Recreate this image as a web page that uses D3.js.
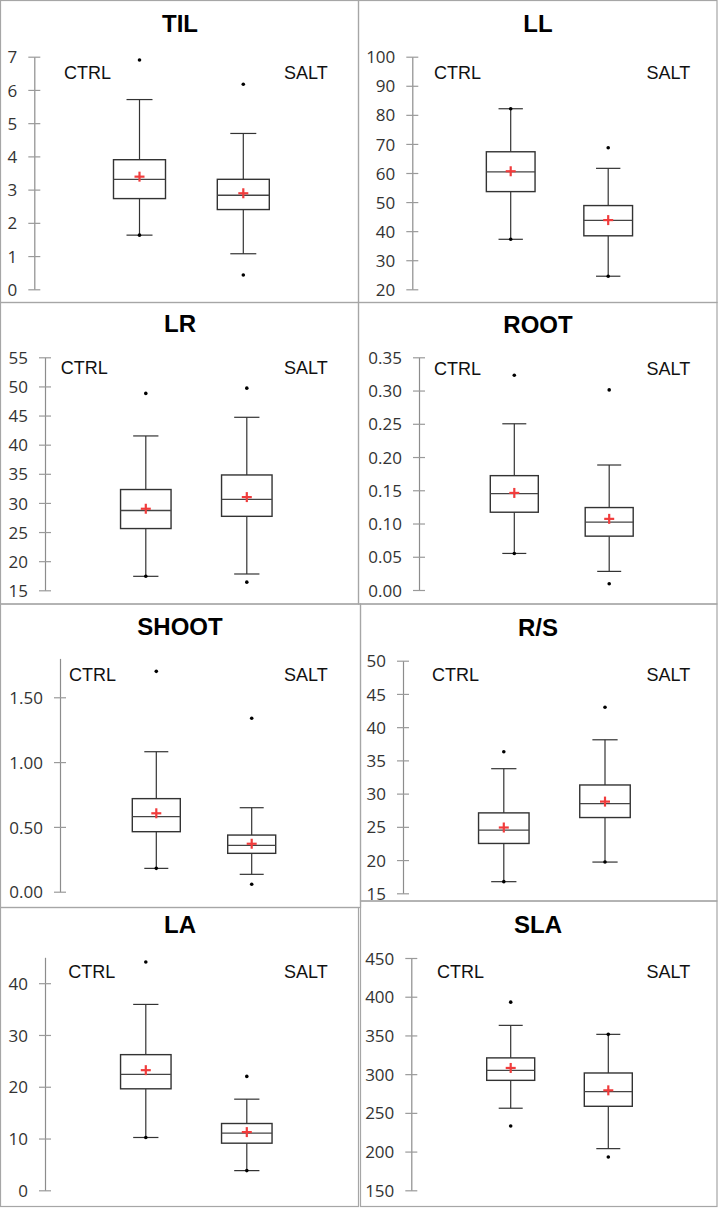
<!DOCTYPE html>
<html><head><meta charset="utf-8">
<script src="https://cdn.jsdelivr.net/npm/d3@7"></script>
<style>
html,body{margin:0;padding:0;background:#fff;}
svg{display:block;}
</style></head>
<body>
<script>
// ---- DATA ----
const panels = ["TIL","LL","LR","ROOT","SHOOT","R/S","LA","SLA"];
const groups = ["CTRL","SALT"];
const yMin  = [0, 20, 15, 0,    0,   15, 0,  150];
const yMax  = [7, 100, 55, 0.35, 1.8, 50, 45, 450];
const yStep = [1, 10, 5, 0.05, 0.5, 5, 10, 50];
const tickFormat = ["d","d","d",".2f",".2f","d","d","d"];
// each entry: [CTRL, SALT]
const maxVal    = [[6.9,6.17],[82.1,68.7],[48.8,49.7],[0.323,0.301],[1.70,1.338],[36.3,43.0],[44.1,22.0],[393,351.4]];
const whiskerHi = [[5.71,4.69],[82.1,61.6],[41.5,44.7],[0.250,0.188],[1.08,0.648],[33.75,38.1],[35.9,17.6],[363,351.4]];
const q3        = [[3.90,3.31],[67.3,48.8],[32.3,34.8],[0.172,0.124],[0.718,0.437],[27.1,31.3],[26.2,12.9],[321,301.5]];
const median    = [[3.31,2.83],[60.4,43.7],[28.7,30.6],[0.145,0.102],[0.579,0.358],[24.5,28.5],[22.4,11.05],[305,277.4]];
const mean      = [[3.39,2.89],[60.6,43.8],[29.0,31.0],[0.146,0.107],[0.605,0.370],[24.9,28.8],[23.2,11.24],[308,279.1]];
const q1        = [[2.73,2.40],[53.6,38.4],[25.6,27.7],[0.117,0.081],[0.463,0.296],[22.5,26.4],[19.6,9.1],[292,258.5]];
const whiskerLo = [[1.63,1.07],[37.2,24.5],[17.4,17.8],[0.055,0.028],[0.18,0.134],[16.75,19.7],[10.2,3.8],[256,203.8]];
const minVal    = [[1.63,0.43],[37.2,24.5],[17.4,16.4],[0.055,0.0095],[0.18,0.057],[16.75,19.7],[10.2,3.8],[233,193]];

// ---- LAYOUT ----
const layout = [
  {frame:[0.5,0.5,358,302],     ax:34.3, top:56.7,  bot:289.3,  cx:[139.5,243.3], bw:52,   tt:[180,32.3],  ly:79,    cl:64,   sr:327.7},
  {frame:[358.5,0.5,358.5,302], ax:412.3,top:56.7,  bot:289.3,  cx:[510.7,608.2], bw:48.7, tt:[538,32.3],  ly:79,    cl:434,  sr:690.3},
  {frame:[0.5,302.5,358,301.5], ax:45,   top:357.3, bot:590.3,  cx:[145.8,246.8], bw:50.5, tt:[180,332.3], ly:374,   cl:60.7, sr:327.7},
  {frame:[358.5,302.5,358.5,301.5],ax:419,top:357.3,bot:590,    cx:[514.3,609.2], bw:48,   tt:[538,333],   ly:374.7, cl:434,  sr:690.3},
  {frame:[0.5,604,360,303.5],   ax:60,   top:658.4, bot:891.7,  cx:[156.3,251.7], bw:48,   tt:[180,635],   ly:681,   cl:69,   sr:327.7},
  {frame:[360.5,604,356.5,297], ax:403,  top:660.7, bot:893.3,  cx:[503.8,605],   bw:50.5, tt:[538,636],   ly:681,   cl:432,  sr:690.3},
  {frame:[0.5,907.5,358,299],   ax:45,   top:957.3, bot:1190.3, cx:[145.8,246.8], bw:50.5, tt:[180,933.3], ly:978.3, cl:68.3, sr:327.7},
  {frame:[360.5,901,356.5,305.5],ax:411.3,top:958,  bot:1190.3, cx:[510.7,608.3], bw:48,   tt:[538,933],   ly:978,   cl:437,  sr:690.3}
];

const svg = d3.select("body").append("svg").attr("width",719).attr("height",1208);
svg.append("rect").attr("width",719).attr("height",1208).attr("fill","#fff");

panels.forEach((name,i)=>{
  const L = layout[i];
  const g = svg.append("g");
  g.append("rect").attr("x",L.frame[0]).attr("y",L.frame[1]).attr("width",L.frame[2]).attr("height",L.frame[3])
    .attr("fill","none").attr("stroke","#a6a6a6").attr("stroke-width",1.2);

  const y = d3.scaleLinear().domain([yMin[i], yMax[i]]).range([L.bot, L.top]);
  const x = d3.scalePoint().domain(groups).range(L.cx);
  const ticks = d3.range(yMin[i], yMax[i] + yStep[i]*0.01, yStep[i]);

  const axis = d3.axisLeft(y).tickValues(ticks).tickSizeOuter(0).tickSizeInner(6)
    .tickFormat(d3.format(tickFormat[i]));
  const ag = g.append("g").attr("transform",`translate(${L.ax},0)`).call(axis);
  ag.select(".domain").attr("stroke","#8c8c8c").attr("stroke-width",1.2);
  ag.selectAll(".tick line").attr("x1",-6).attr("x2",6).attr("stroke","#9a9a9a").attr("stroke-width",1.2);
  ag.selectAll(".tick text").attr("x",-17).attr("dy","0.36em")
    .attr("font-family","'Open Sans', sans-serif").attr("font-size",17).attr("fill","#333");

  // title
  g.append("text").attr("x",L.tt[0]).attr("y",L.tt[1]).attr("text-anchor","middle")
    .attr("font-family","'Liberation Sans', Arial, sans-serif").attr("font-weight","bold")
    .attr("font-size",24).attr("fill","#000").text(name);
  // group labels
  g.append("text").attr("x",L.cl).attr("y",L.ly).attr("font-family","'Liberation Sans', Arial, sans-serif")
    .attr("font-size",18).attr("fill","#111").text(groups[0]);
  g.append("text").attr("x",L.sr).attr("y",L.ly).attr("text-anchor","end").attr("font-family","'Liberation Sans', Arial, sans-serif")
    .attr("font-size",18).attr("fill","#111").text(groups[1]);

  groups.forEach((grp,j)=>{
    const cx = x(grp), bw = L.bw, cw = bw/2;
    const stroke = "#333";
    // whiskers
    g.append("line").attr("x1",cx).attr("x2",cx).attr("y1",y(whiskerHi[i][j])).attr("y2",y(q3[i][j]))
      .attr("stroke",stroke).attr("stroke-width",1.2);
    g.append("line").attr("x1",cx).attr("x2",cx).attr("y1",y(q1[i][j])).attr("y2",y(whiskerLo[i][j]))
      .attr("stroke",stroke).attr("stroke-width",1.2);
    [whiskerHi[i][j], whiskerLo[i][j]].forEach(v=>{
      g.append("line").attr("x1",cx-cw/2).attr("x2",cx+cw/2).attr("y1",y(v)).attr("y2",y(v))
        .attr("stroke",stroke).attr("stroke-width",1.2);
    });
    // box
    g.append("rect").attr("x",cx-bw/2).attr("y",y(q3[i][j])).attr("width",bw)
      .attr("height",y(q1[i][j])-y(q3[i][j])).attr("fill","#fff").attr("stroke",stroke).attr("stroke-width",1.4);
    g.append("line").attr("x1",cx-bw/2).attr("x2",cx+bw/2).attr("y1",y(median[i][j])).attr("y2",y(median[i][j]))
      .attr("stroke","#444").attr("stroke-width",1.3);
    // min/max dots
    [maxVal[i][j], minVal[i][j]].forEach(v=>{
      g.append("circle").attr("cx",cx).attr("cy",y(v)).attr("r",1.8).attr("fill","#000");
    });
    // mean plus
    const my = y(mean[i][j]);
    g.append("line").attr("x1",cx-5).attr("x2",cx+5).attr("y1",my).attr("y2",my).attr("stroke","#f03c3c").attr("stroke-width",2.2);
    g.append("line").attr("x1",cx).attr("x2",cx).attr("y1",my-5).attr("y2",my+5).attr("stroke","#f03c3c").attr("stroke-width",2.2);
  });
});
</script>
</body></html>
